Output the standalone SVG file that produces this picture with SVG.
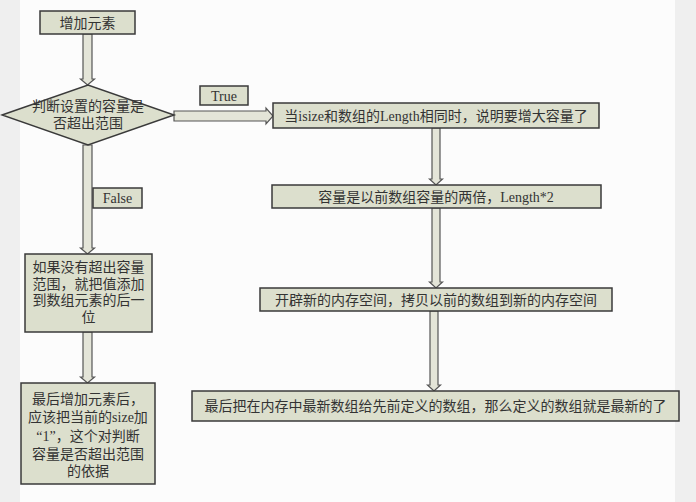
<svg xmlns="http://www.w3.org/2000/svg" width="696" height="502" viewBox="0 0 696 502">
<style>
.bx{fill:#dcdfcd;stroke:#3a3a3a;stroke-width:1.5}
.ar{fill:#e4e5d8;stroke:#555;stroke-width:1.2;stroke-linejoin:miter}
text{font-family:"Liberation Serif","Noto Sans CJK SC",serif;font-size:14px;fill:#333;text-anchor:middle}
</style>
<rect x="0" y="0" width="696" height="502" fill="#fcfcfc"/>
<rect x="0" y="0" width="20" height="502" fill="#efefef"/>
<rect x="675" y="0" width="21" height="502" fill="#efefef"/>
<g id="connectors">
<polygon class="ar" points="83,34 92,34 92,79 94.5,79 87.5,85 80.5,79 83,79"/>
<polygon class="ar" points="83,145 92,145 92,248 94.5,248 87.5,254 80.5,248 83,248"/>
<polygon class="ar" points="83,332 92,332 92,377 94.5,377 87.5,383 80.5,377 83,377"/>
<polygon class="ar" points="174,111 266,111 266,108 273,116 266,124 266,121 174,121"/>
<polygon class="ar" points="432,128 440,128 440,179 442.5,179 436,185 429.5,179 432,179"/>
<polygon class="ar" points="432,208 440,208 440,282 442.5,282 436,288 429.5,282 432,282"/>
<polygon class="ar" points="430,311 438,311 438,385 440.5,385 434,391 427.5,385 430,385"/>
</g>
<g id="start"><rect class="bx" x="40" y="11" width="95" height="23"/><text x="87.5" y="28" font-size="16">增加元素</text></g>
<g id="decision"><polygon class="bx" points="2,115 88,85 174,115 88,145"/><text x="88" y="111">判断设置的容量是</text><text x="88" y="128">否超出范围</text></g>
<g id="label-true"><rect class="bx" x="200" y="86" width="48" height="19"/><text x="224" y="101">True</text></g>
<g id="label-false"><rect class="bx" x="93" y="188" width="49" height="20"/><text x="117.5" y="203">False</text></g>
<g id="left1"><rect class="bx" x="25" y="254" width="127" height="78"/>
<text x="88.5" y="272">如果没有超出容量</text><text x="88.5" y="289">范围，就把值添加</text><text x="88.5" y="305">到数组元素的后一</text><text x="88.5" y="322">位</text></g>
<g id="left2"><rect class="bx" x="21" y="383" width="134" height="101"/>
<text x="88" y="404">最后增加元素后，</text><text x="88" y="422">应该把当前的size加</text><text x="88" y="441">“1”，这个对判断</text><text x="88" y="459">容量是否超出范围</text><text x="88" y="476">的依据</text></g>
<g id="r1"><rect class="bx" x="273" y="103" width="326" height="25"/><text x="436" y="121">当isize和数组的Length相同时，说明要增大容量了</text></g>
<g id="r2"><rect class="bx" x="272" y="185" width="329" height="23"/><text x="436" y="202">容量是以前数组容量的两倍，Length*2</text></g>
<g id="r3"><rect class="bx" x="260" y="288" width="352" height="23"/><text x="436" y="305">开辟新的内存空间，拷贝以前的数组到新的内存空间</text></g>
<g id="r4"><rect class="bx" x="192" y="391" width="487" height="30"/><text x="435.5" y="411">最后把在内存中最新数组给先前定义的数组，那么定义的数组就是最新的了</text></g>
</svg>
